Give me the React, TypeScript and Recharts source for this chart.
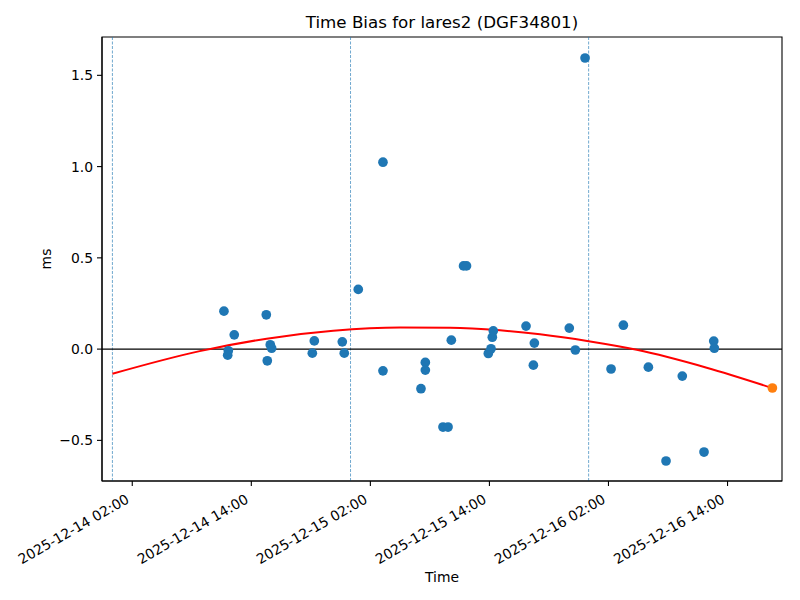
import React from 'react';
import {
  ComposedChart,
  Scatter,
  Line,
  XAxis,
  YAxis,
  ReferenceLine,
  ReferenceArea,
} from 'recharts';

// x values are hours since 2025-12-14 00:00
const obsHours = [
  11.24, 11.62, 11.68, 12.28, 15.51, 15.61, 15.91, 16.05, 20.15, 20.35,
  23.17, 23.37, 24.78, 27.27, 27.27, 31.1, 31.54, 31.54, 33.32, 33.83,
  34.16, 35.39, 35.69, 37.89, 38.16, 38.29, 38.39, 41.69, 42.43, 42.53,
  46.05, 46.66, 47.64, 50.26, 51.5, 54.02, 55.8, 57.44, 59.63, 60.61, 60.67,
];
const obsBias = [
  0.208, -0.033, -0.009, 0.078, 0.188, -0.064, 0.024, 0.005, -0.022, 0.045,
  0.04, -0.022, 0.327, 1.024, -0.119, -0.217, -0.073, -0.115, -0.427, -0.427,
  0.049, 0.456, 0.456, -0.024, 0.002, 0.065, 0.1, 0.126, -0.088, 0.033,
  0.115, -0.005, 1.595, -0.109, 0.131, -0.099, -0.613, -0.148, -0.564, 0.044, 0.005,
];

// fitted trend
const fitHours = [0, 8.8, 15.55, 22.26, 28.99, 34.03, 39.07, 43.1, 48.0, 52.85, 59.9, 66.5];
const fitBias = [-0.135, -0.011, 0.057, 0.1, 0.118, 0.117, 0.103, 0.081, 0.043, -0.004, -0.102, -0.213];

const lastHours = [66.52];
const lastBias = [-0.213];

const dayLines = [0, 24, 48];
const xTicks = [2, 14, 26, 38, 50, 62];
const xTickLabels = [
  '2025-12-14 02:00',
  '2025-12-14 14:00',
  '2025-12-15 02:00',
  '2025-12-15 14:00',
  '2025-12-16 02:00',
  '2025-12-16 14:00',
];
const yTicks = [-0.5, 0, 0.5, 1.0, 1.5];

const X_DOMAIN: [number, number] = [-1.05, 67.49];
const Y_DOMAIN: [number, number] = [-0.7226, 1.71];
const FONT = '"DejaVu Sans", sans-serif';

const obsData = obsHours.map((h, i) => ({ h, v: obsBias[i] }));
const fitData = fitHours.map((h, i) => ({ h, v: fitBias[i] }));
const lastData = lastHours.map((h, i) => ({ h, v: lastBias[i] }));

const fmtY = (v: number) => (v < 0 ? '\u2212' : '') + Math.abs(v).toFixed(1);

const XTick = (props: any) => {
  const { x, payload } = props;
  const idx = xTicks.indexOf(payload.value);
  const bx = x - 2;
  const by = 502;
  return (
    <text
      x={bx}
      y={by}
      textAnchor="end"
      fontSize={13.9}
      fontFamily={FONT}
      fill="#000"
      transform={`rotate(-30, ${bx}, ${by})`}
    >
      {idx >= 0 ? xTickLabels[idx] : ''}
    </text>
  );
};

const dot = (color: string) => (props: any) => (
  <circle cx={props.cx} cy={props.cy} r={4.85} fill={color} />
);

export default function App() {
  return (
    <div style={{ position: 'absolute', left: 0, top: 0, width: 800, height: 600, background: '#fff' }}>
      <svg width={800} height={40} style={{ position: 'absolute', left: 0, top: 0 }}>
        <text x={442} y={28} textAnchor="middle" fontSize={16.7} fontFamily={FONT} fill="#000">
          Time Bias for lares2 (DGF34801)
        </text>
      </svg>
      <ComposedChart
        width={800}
        height={600}
        margin={{ top: 37, right: 18, left: 0, bottom: 0 }}
        style={{ fontFamily: FONT }}
      >
        <XAxis
          type="number"
          dataKey="h"
          domain={X_DOMAIN}
          allowDataOverflow
          ticks={xTicks}
          interval={0}
          height={119}
          tickSize={5}
          tickMargin={0}
          tick={<XTick />}
          axisLine={{ stroke: '#000', strokeWidth: 1.1 }}
          tickLine={{ stroke: '#000', strokeWidth: 1.1 }}
          label={{ value: 'Time', position: 'insideBottom', offset: 18, fontSize: 13.9, fill: '#000', fontFamily: FONT }}
        />
        <YAxis
          type="number"
          dataKey="v"
          domain={Y_DOMAIN}
          allowDataOverflow
          ticks={yTicks}
          interval={0}
          width={102}
          tickSize={5}
          tickMargin={4}
          tickFormatter={fmtY}
          tick={{ fontSize: 13.9, fill: '#000', fontFamily: FONT }}
          axisLine={{ stroke: '#000', strokeWidth: 1.1 }}
          tickLine={{ stroke: '#000', strokeWidth: 1.1 }}
          label={{ value: 'ms', angle: -90, position: 'center', dx: -5, fontSize: 13.9, fill: '#000', fontFamily: FONT }}
        />
        {dayLines.map((d) => (
          <ReferenceLine
            key={d}
            x={d}
            stroke="#1f77b4"
            strokeOpacity={0.8}
            strokeWidth={0.8}
            strokeDasharray="3 1.5"
          />
        ))}
        <ReferenceLine y={0} stroke="#000" strokeWidth={1.1} />
        <Line
          data={fitData}
          dataKey="v"
          type="monotone"
          stroke="#ff0000"
          strokeWidth={2}
          dot={false}
          activeDot={false}
          isAnimationActive={false}
        />
        <Scatter data={obsData} shape={dot('#1f77b4')} isAnimationActive={false} />
        <Scatter data={lastData} shape={dot('#ff7f0e')} isAnimationActive={false} />
        <ReferenceArea
          x1={X_DOMAIN[0]}
          x2={X_DOMAIN[1]}
          y1={Y_DOMAIN[0]}
          y2={Y_DOMAIN[1]}
          fill="none"
          stroke="#000"
          strokeWidth={1.1}
        />
      </ComposedChart>
    </div>
  );
}
